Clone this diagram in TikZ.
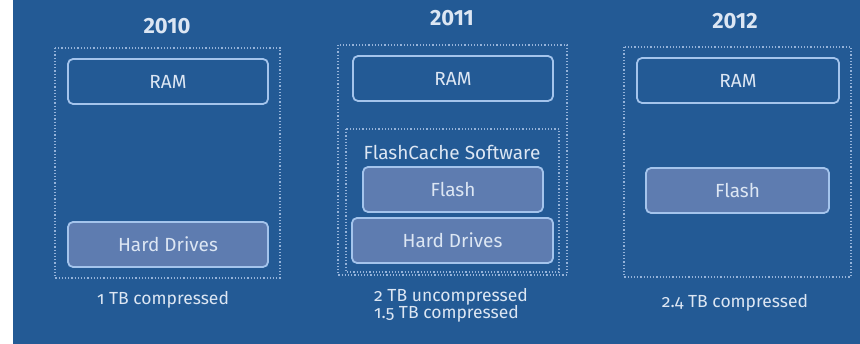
\documentclass[tikz,border=0pt]{standalone}
\usepackage{fontspec}
\setmainfont{Fira Sans}
\newfontfamily\oldnum[Numbers=OldStyle]{Fira Sans}
\definecolor{bgblue}{HTML}{235A95}
\definecolor{edge}{HTML}{A4C4EC}
\definecolor{dots}{HTML}{95B3DA}
\definecolor{lightfill}{HTML}{5E7CB0}
\definecolor{txt}{HTML}{DCE6F3}
\begin{document}
\begin{tikzpicture}[x=1pt,y=-1pt,
  year/.style={text=txt,font=\fontsize{22}{26}\selectfont\bfseries},
  frame/.style={draw=dots,line width=1.2pt,dotted},
  membox/.style={draw=edge,line width=1.8pt,rounded corners=5pt,fill=bgblue},
  diskbox/.style={membox,fill=lightfill},
  label/.style={text=txt,font=\fontsize{19}{22}\selectfont},
  note/.style={text=txt,font=\oldnum\fontsize{17.5}{17}\selectfont,align=center}]
\useasboundingbox (0,0) rectangle (860,344);
\fill[white] (0,0) rectangle (13,344);
\fill[bgblue] (13,0) rectangle (860,344);

% 2010
\node[year] (y1) at (167,26) {2010};
\draw[frame] (55,48) rectangle (280,278);
\draw[membox] (68,59) rectangle (268,104);
\node[label] (ram1) at (168,81.5) {RAM};
\draw[diskbox] (68,222) rectangle (268,267);
\node[label] (hd1) at (168,244.5) {Hard Drives};
\node[note] (c1) at (163,300) {1 TB compressed};

% 2011
\node[year] (y2) at (452,18) {2011};
\draw[frame] (338,45) rectangle (567,275);
\draw[membox] (353,56) rectangle (553,101);
\node[label] (ram2) at (453,78.5) {RAM};
\draw[frame] (346,129) rectangle (559,272);
\node[label] (fc) at (452,152) {FlashCache Software};
\draw[diskbox] (363,167) rectangle (543,212);
\node[label] (fl2) at (453,189.5) {Flash};
\draw[diskbox] (352,218) rectangle (553,263);
\node[label] (hd2) at (452.5,240.5) {Hard Drives};
\node[note,align=left] (c2) at (451,305) {2 TB uncompressed\\1.5 TB compressed};

% 2012
\node[year] (y3) at (735,21) {2012};
\draw[frame] (624,47) rectangle (851,277);
\draw[membox] (637,58) rectangle (839,103);
\node[label] (ram3) at (738,80.5) {RAM};
\draw[diskbox] (646,168) rectangle (829,213);
\node[label] (fl3) at (737.5,190.5) {Flash};
\node[note] (c3) at (735,303) {2.4 TB compressed};
\end{tikzpicture}
\end{document}
